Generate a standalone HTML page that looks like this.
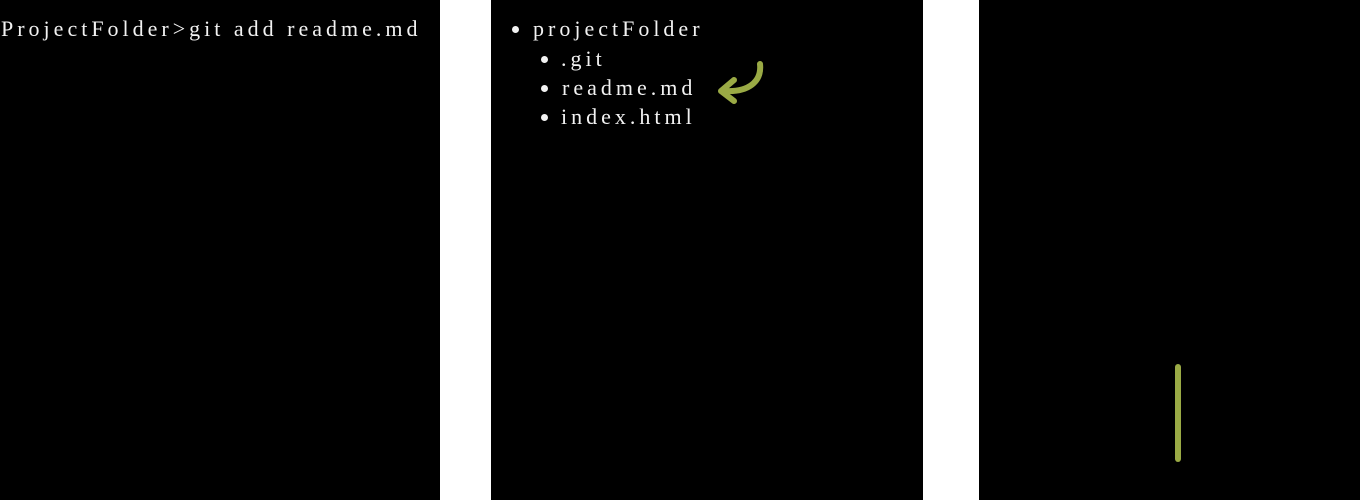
<!DOCTYPE html>
<html><head><style>
body{margin:0;width:1360px;height:500px;background:#fff;position:relative;overflow:hidden;font-family:"Liberation Serif",serif;color:#f2f2f2}
.p{position:absolute;top:0;height:500px;background:#000}
.t{position:absolute;font-size:22px;letter-spacing:4px;white-space:nowrap;line-height:29px}
.b{position:absolute;width:7px;height:7px;border-radius:50%;background:#f2f2f2}
</style></head><body>
<div class="p" style="left:0;width:440px"></div>
<div class="p" style="left:491px;width:432px"></div>
<div class="p" style="left:979px;width:381px"></div>
<div class="t" style="left:1px;top:14px">ProjectFolder&gt;git add readme.md</div>
<div class="b" style="left:512px;top:26px"></div>
<div class="t" style="left:533px;top:14px">projectFolder</div>
<div class="b" style="left:541px;top:56px"></div>
<div class="t" style="left:561px;top:44px">.git</div>
<div class="b" style="left:541px;top:85px"></div>
<div class="t" style="left:562px;top:73px">readme.md</div>
<div class="b" style="left:541px;top:114px"></div>
<div class="t" style="left:561px;top:102px">index.html</div>
<svg style="position:absolute;left:0;top:0" width="1360" height="500">
<path d="M760 64 C762 82 748 92 726 91" fill="none" stroke="#9aaa45" stroke-width="6" stroke-linecap="round"/>
<path d="M734 80 L721 91 L734 101" fill="none" stroke="#9aaa45" stroke-width="6" stroke-linecap="round" stroke-linejoin="round"/>
<line x1="1178" y1="367" x2="1178" y2="459" stroke="#9aaa45" stroke-width="6" stroke-linecap="round"/>
</svg>
</body></html>
